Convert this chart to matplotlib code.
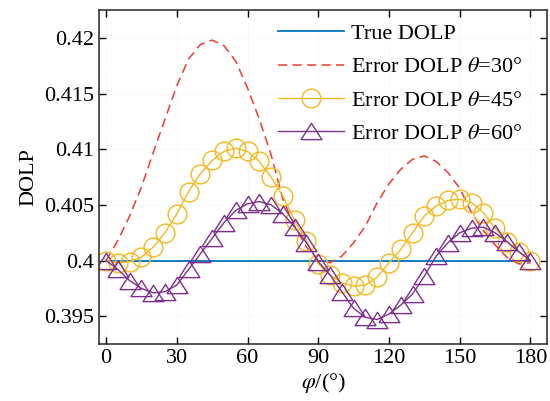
import matplotlib
matplotlib.use("Agg")
import matplotlib.pyplot as plt
from matplotlib.path import Path
import numpy as np

# ===================== 数据 =====================
phi = list(range(0, 181, 5))

true_dolp = [0.4] * len(phi)

err_30 = [0.4000, 0.4018, 0.4040, 0.4066, 0.4097, 0.4127, 0.4157, 0.4181, 0.4194, 0.4198,
          0.4193, 0.4179, 0.4155, 0.4127, 0.4095, 0.4055, 0.4031, 0.4012, 0.4000, 0.3998,
          0.4004, 0.4016, 0.4031, 0.4052, 0.4069, 0.4082, 0.4091, 0.4094, 0.4089, 0.4079,
          0.4065, 0.4043, 0.4027, 0.4014, 0.4003, 0.3997, 0.3998]

err_45 = [0.4000, 0.3998, 0.3999, 0.4003, 0.4012, 0.4025, 0.4042, 0.4062, 0.4078, 0.4090,
          0.4098, 0.4101, 0.4098, 0.4089, 0.4075, 0.4058, 0.4036, 0.4018, 0.3997, 0.3987,
          0.3980, 0.3977, 0.3978, 0.3985, 0.3998, 0.4010, 0.4025, 0.4040, 0.4049, 0.4054,
          0.4055, 0.4052, 0.4043, 0.4029, 0.4017, 0.4008, 0.4000]

err_60 = [0.4000, 0.3992, 0.3982, 0.3975, 0.3971, 0.3972, 0.3978, 0.3992, 0.4006, 0.4020,
          0.4034, 0.4045, 0.4051, 0.4053, 0.4050, 0.4042, 0.4030, 0.4016, 0.3999, 0.3987,
          0.3972, 0.3957, 0.3949, 0.3947, 0.3952, 0.3960, 0.3970, 0.3986, 0.4004, 0.4016,
          0.4025, 0.4029, 0.4030, 0.4025, 0.4017, 0.4008, 0.4000]

x_ticks = [0, 30, 60, 90, 120, 150, 180]
y_ticks = [0.395, 0.4, 0.405, 0.41, 0.415, 0.42]
y_tick_labels = ["0.395", "0.4", "0.405", "0.41", "0.415", "0.42"]

labels = ["True DOLP",
          r"Error DOLP $\theta$=30°",
          r"Error DOLP $\theta$=45°",
          r"Error DOLP $\theta$=60°"]

# ===================== 样式 =====================
plt.rcParams['font.family'] = ['Liberation Serif', 'DejaVu Serif']
plt.rcParams['mathtext.fontset'] = 'stix'

C_BLUE = '#0072BD'
C_RED = '#F03B2C'
C_GOLD = '#F5B81C'
C_PURPLE = '#7E2F8E'

# 较扁的三角形（闭合路径）
tri = Path([(0, 0.78), (-1, -0.78), (1, -0.78), (0, 0.78)], closed=True)

fig = plt.figure(figsize=(5.5, 4.01), dpi=100)
ax = fig.add_axes([0.18, 0.142, 0.8145, 0.833])

ax.plot(phi, true_dolp, color=C_BLUE, lw=1.3, label=labels[0])
ax.plot(phi, err_30, color=C_RED, lw=1.1, dashes=(6, 3.5), label=labels[1])
ax.plot(phi, err_45, color=C_GOLD, lw=1.0, marker='o', markersize=13.5,
        markerfacecolor='none', markeredgewidth=1.0, label=labels[2])
ax.plot(phi, err_60, color=C_PURPLE, lw=1.0, marker=tri, markersize=15,
        markerfacecolor='none', markeredgewidth=1.0, label=labels[3])

ax.set_xlim(-3, 187)
ax.set_ylim(0.3925, 0.4225)
ax.set_xticks(x_ticks)
ax.set_yticks(y_ticks)
ax.set_yticklabels(y_tick_labels)
ax.tick_params(direction='in', top=True, right=True, labelsize=16, length=5, width=1)
for s in ax.spines.values():
    s.set_linewidth(1.1)
    s.set_color('#262626')
ax.grid(True, color='#eeeeee', lw=0.6, ls=':')

ax.set_xlabel(r"$\varphi$/(°)", fontsize=16, labelpad=2)
ax.set_ylabel("DOLP", fontsize=16, labelpad=4)

ax.legend(loc='upper right', bbox_to_anchor=(0.975, 1.0), frameon=False, fontsize=16,
          handlelength=3.0, handletextpad=0.3, labelspacing=0.58, numpoints=1,
          borderaxespad=0.2)

fig.savefig("out.png", dpi=100)
